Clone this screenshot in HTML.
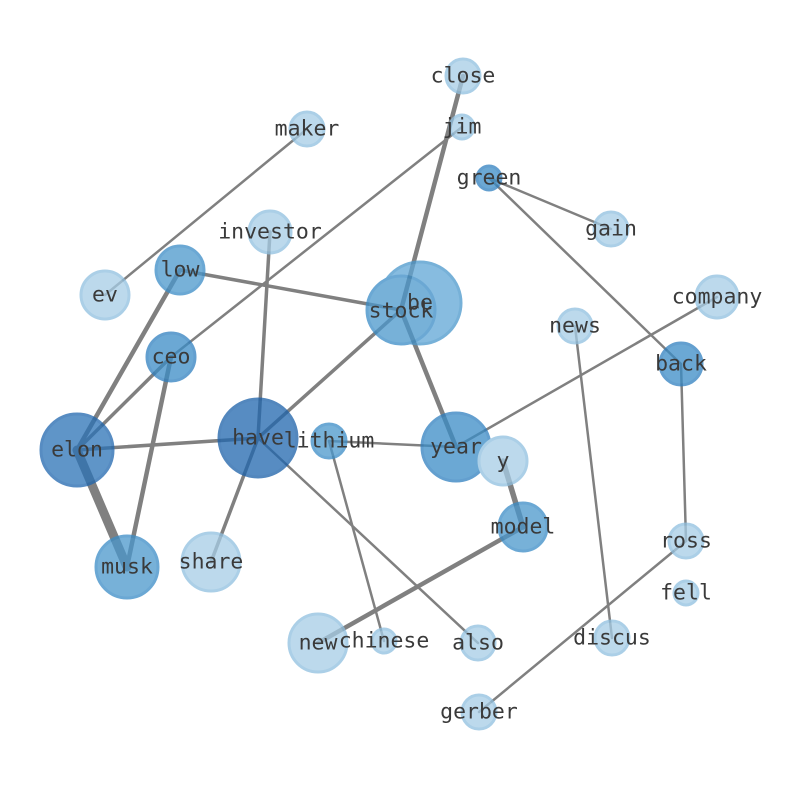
<!DOCTYPE html>
<html><head><meta charset="utf-8"><style>
html,body{margin:0;padding:0;background:#fff;}
svg text{font-family:"DejaVu Sans Mono","Liberation Mono",monospace;font-size:21.5px;fill:#3a3a3a;text-anchor:middle;dominant-baseline:central;}
</style></head><body>
<svg width="794" height="790" viewBox="0 0 794 790" xmlns="http://www.w3.org/2000/svg">
<g stroke="#808080" stroke-linecap="round" fill="none">
<line x1="463" y1="76" x2="401" y2="310" stroke-width="4.5"/>
<line x1="401" y1="310" x2="456" y2="447" stroke-width="4.5"/>
<line x1="307" y1="129" x2="105" y2="295" stroke-width="2.5"/>
<line x1="462" y1="127" x2="171" y2="357" stroke-width="2.5"/>
<line x1="171" y1="357" x2="77" y2="450" stroke-width="3.5"/>
<line x1="489" y1="178" x2="611" y2="229" stroke-width="2.5"/>
<line x1="489" y1="178" x2="681" y2="364" stroke-width="2.5"/>
<line x1="270" y1="232" x2="258" y2="438" stroke-width="3.5"/>
<line x1="180" y1="270" x2="401" y2="310" stroke-width="3.5"/>
<line x1="180" y1="270" x2="77" y2="450" stroke-width="4.5"/>
<line x1="171" y1="357" x2="127" y2="567" stroke-width="4.5"/>
<line x1="77" y1="450" x2="127" y2="567" stroke-width="9"/>
<line x1="77" y1="450" x2="258" y2="438" stroke-width="3.5"/>
<line x1="258" y1="438" x2="401" y2="310" stroke-width="3.5"/>
<line x1="258" y1="438" x2="211" y2="562" stroke-width="3.5"/>
<line x1="258" y1="438" x2="478" y2="643" stroke-width="2.5"/>
<line x1="329" y1="441" x2="456" y2="447" stroke-width="2.5"/>
<line x1="329" y1="441" x2="384" y2="641" stroke-width="2.5"/>
<line x1="717" y1="297" x2="456" y2="447" stroke-width="2.5"/>
<line x1="575" y1="326" x2="612" y2="638" stroke-width="2.5"/>
<line x1="681" y1="364" x2="686" y2="541" stroke-width="2.5"/>
<line x1="686" y1="541" x2="479" y2="712" stroke-width="2.5"/>
<line x1="503" y1="461" x2="523" y2="527" stroke-width="5.5"/>
<line x1="523" y1="527" x2="318" y2="643" stroke-width="4.5"/>
</g>
<g stroke-width="3" opacity="0.75">
<circle cx="463" cy="76" r="17" fill="#a6cde6" stroke="#8fbfdf"/>
<circle cx="307" cy="129" r="17" fill="#a6cde6" stroke="#8fbfdf"/>
<circle cx="462" cy="127" r="12" fill="#a6cde6" stroke="#8fbfdf"/>
<circle cx="489" cy="178" r="12" fill="#3a8cc6" stroke="#2f7fbf"/>
<circle cx="611" cy="229" r="17" fill="#a6cde6" stroke="#8fbfdf"/>
<circle cx="270" cy="232" r="21" fill="#a6cde6" stroke="#8fbfdf"/>
<circle cx="105" cy="295" r="24" fill="#a6cde6" stroke="#8fbfdf"/>
<circle cx="180" cy="270" r="24" fill="#4a97cc" stroke="#3a8cc6"/>
<circle cx="420" cy="303" r="41" fill="#5fa6d6" stroke="#4a97cc"/>
<circle cx="401" cy="310" r="34" fill="#4a97cc" stroke="#3a8cc6"/>
<circle cx="717" cy="297" r="21" fill="#a6cde6" stroke="#8fbfdf"/>
<circle cx="575" cy="326" r="17" fill="#a6cde6" stroke="#8fbfdf"/>
<circle cx="171" cy="357" r="24" fill="#3a8cc6" stroke="#2f7fbf"/>
<circle cx="681" cy="364" r="21" fill="#3a8cc6" stroke="#2f7fbf"/>
<circle cx="77" cy="450" r="36" fill="#2a72b6" stroke="#1f66ae"/>
<circle cx="258" cy="438" r="39" fill="#1f66ae" stroke="#1a5fa8"/>
<circle cx="329" cy="441" r="17" fill="#4a97cc" stroke="#3a8cc6"/>
<circle cx="456" cy="447" r="34" fill="#3a8cc6" stroke="#2f7fbf"/>
<circle cx="503" cy="461" r="24" fill="#a6cde6" stroke="#8fbfdf"/>
<circle cx="523" cy="527" r="24" fill="#4a97cc" stroke="#3a8cc6"/>
<circle cx="686" cy="541" r="17" fill="#a6cde6" stroke="#8fbfdf"/>
<circle cx="686" cy="593" r="12" fill="#a6cde6" stroke="#8fbfdf"/>
<circle cx="127" cy="567" r="31" fill="#4a97cc" stroke="#3a8cc6"/>
<circle cx="211" cy="562" r="29" fill="#a6cde6" stroke="#8fbfdf"/>
<circle cx="318" cy="643" r="29" fill="#a6cde6" stroke="#8fbfdf"/>
<circle cx="384" cy="641" r="12" fill="#a6cde6" stroke="#8fbfdf"/>
<circle cx="478" cy="643" r="17" fill="#a6cde6" stroke="#8fbfdf"/>
<circle cx="612" cy="638" r="17" fill="#a6cde6" stroke="#8fbfdf"/>
<circle cx="479" cy="712" r="17" fill="#a6cde6" stroke="#8fbfdf"/>
</g>
<g>
<text x="463" y="76">close</text>
<text x="307" y="129">maker</text>
<text x="462" y="127">jim</text>
<text x="489" y="178">green</text>
<text x="611" y="229">gain</text>
<text x="270" y="232">investor</text>
<text x="105" y="295">ev</text>
<text x="180" y="270">low</text>
<text x="420" y="303">be</text>
<text x="401" y="311">stock</text>
<text x="717" y="297">company</text>
<text x="575" y="326">news</text>
<text x="171" y="357">ceo</text>
<text x="681" y="364">back</text>
<text x="77" y="450">elon</text>
<text x="258" y="438">have</text>
<text x="329" y="441">lithium</text>
<text x="456" y="447">year</text>
<text x="503" y="461">y</text>
<text x="523" y="527">model</text>
<text x="686" y="541">ross</text>
<text x="686" y="593">fell</text>
<text x="127" y="567">musk</text>
<text x="211" y="562">share</text>
<text x="318" y="643">new</text>
<text x="384" y="641">chinese</text>
<text x="478" y="643">also</text>
<text x="612" y="638">discus</text>
<text x="479" y="712">gerber</text>
</g>
</svg>
</body></html>
